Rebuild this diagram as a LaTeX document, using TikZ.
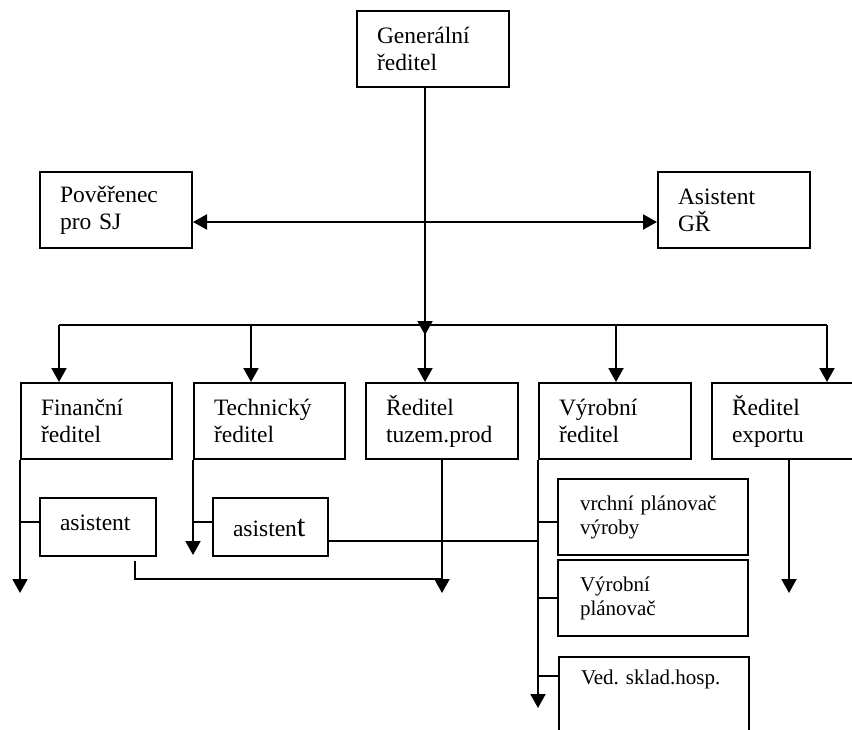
\documentclass[tikz,border=0pt]{standalone}
\usepackage{fontspec}
\setmainfont{Liberation Serif}
\usetikzlibrary{arrows.meta,calc}
\newcommand\bigfnt{\fontsize{23.5}{27}\selectfont}
\newcommand\smallfnt{\fontsize{21}{24}\selectfont}
\begin{document}
\begin{tikzpicture}[x=1pt,y=-1pt, line width=2pt,
  box/.style={draw, rectangle, font=\bigfnt, align=left, inner xsep=20pt, inner ysep=0pt, minimum height=76pt, text width=112pt},
  sbox/.style={box, font=\smallfnt, inner xsep=22pt, text width=146pt},
  arr/.style={-{Triangle[width=15pt,length=14pt]}},
  arrtwo/.style={{Triangle[width=15pt,length=14pt]}-{Triangle[width=15pt,length=14pt]}}]
\fill[white] (0,0) rectangle (852,729);
\useasboundingbox (0,0) rectangle (852,729);
\clip (0,0) rectangle (852,729);
% boxes
\node[box] (gr) at (433,49) {Generální\\ředitel};
\node[box] (pov) at (116,210) {Pověřenec\\pro SJ};
\node[box] (asgr) at (734,210) {Asistent\\GŘ};
\node[box, text width=111pt] (fin) at (96.5,421) {Finanční\\ředitel};
\node[box, text width=111pt] (tech) at (269.5,421) {Technický\\ředitel};
\node[box] (tuz) at (442,421) {Ředitel\\tuzem.prod};
\node[box] (vyr) at (615,421) {Výrobní\\ředitel};
\node[box] (exp) at (788,421) {Ředitel\\exportu};
\node[box, minimum height=58pt, text width=76pt, text height=14pt, text depth=8pt] (as1) at (98,527) {asistent};
\node[box, minimum height=58pt, text width=75pt, text height=18pt, text depth=0pt] (as2) at (270.5,527) {asisten{\fontsize{31}{27}\selectfont t}};
\node[sbox] (vrch) at (653,517) {vrchní plánovač\\výroby};
\node[sbox] (vplan) at (653,598) {Výrobní\\plánovač};
\node[draw, rectangle, minimum width=190pt, minimum height=150pt, anchor=north west, inner sep=0pt] (ved) at (558,656) {};
\node[font=\smallfnt, anchor=base west, inner sep=0pt] (vedt) at ($(ved.north west)+(22,28)$) {Ved. sklad.hosp.};
% top connectors
\coordinate (c) at (425,325);
\coordinate (bl) at (59,325);
\coordinate (br) at (827,325);
\draw[arr] (425,0 |- gr.south) -- ($(c)+(0,10)$);
\draw[arrtwo] ($(pov.east)+(0,12)$) -- ($(asgr.west)+(0,12)$);
% bus
\draw (bl) -- (br);
\draw[arr] (bl) -- (bl |- fin.north);
\draw[arr] (251,325) -- (251,0 |- tech.north);
\draw[arr] (c) -- (c |- tuz.north);
\draw[arr] (616,325) -- (616,0 |- vyr.north);
\draw[arr] (br) -- (br |- exp.north);
% finance
\draw[arr] (fin.south west) -- (fin.south west |- 0,593);
\draw (fin.south west |- 0,522) -- (as1.west |- 0,522);
\draw ($(as1.south west)+(96,4)$) |- (tuz.south |- 0,579);
\draw[arr] (tuz.south) -- (tuz.south |- 0,593);
% technical
\draw[arr] (tech.south west) -- (tech.south west |- 0,555);
\draw (tech.south west |- 0,522) -- (as2.west |- 0,522);
\draw (as2.east |- 0,541) -- (vyr.south west |- 0,541);
% production
\draw[arr] (vyr.south west) -- (vyr.south west |- 0,708);
\draw (vyr.south west |- 0,522) -- (vrch.west |- 0,522);
\draw (vyr.south west |- vplan.west) -- (vplan.west);
\draw (vyr.south west |- 0,676) -- (ved.west |- 0,676);
% export
\draw[arr] (789,0 |- exp.south) -- (789,593);
\end{tikzpicture}
\end{document}
